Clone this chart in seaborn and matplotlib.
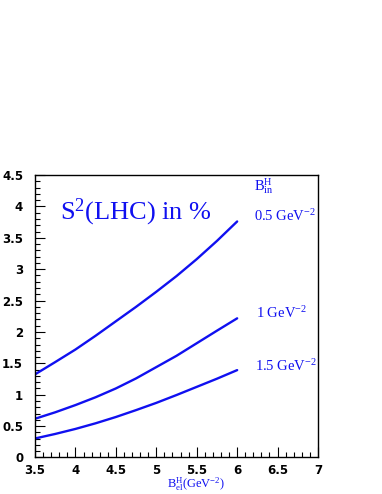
import matplotlib
matplotlib.use("Agg")
import matplotlib.pyplot as plt
import seaborn as sns
import pandas as pd
from matplotlib.ticker import MultipleLocator

# Data
b_el = [3.5, 3.75, 4.0, 4.25, 4.5, 4.75, 5.0, 5.25, 5.5, 5.75, 6.0]
s2_b05 = [1.324, 1.52, 1.72, 1.94, 2.17, 2.40, 2.64, 2.89, 3.16, 3.45, 3.76]
s2_b10 = [0.617, 0.72, 0.835, 0.96, 1.10, 1.26, 1.44, 1.62, 1.82, 2.02, 2.217]
s2_b15 = [0.303, 0.375, 0.455, 0.545, 0.645, 0.755, 0.87, 0.995, 1.125, 1.255, 1.392]
series_names = ["0.5", "1", "1.5"]
x_ticks = [3.5, 4, 4.5, 5, 5.5, 6, 6.5, 7]
x_tick_labels = ["3.5", "4", "4.5", "5", "5.5", "6", "6.5", "7"]
y_ticks = [0, 0.5, 1, 1.5, 2, 2.5, 3, 3.5, 4, 4.5]
y_tick_labels = ["0", "0.5", "1", "1.5", "2", "2.5", "3", "3.5", "4", "4.5"]

rows = []
for name, vals in zip(series_names, [s2_b05, s2_b10, s2_b15]):
    for x, y in zip(b_el, vals):
        rows.append({"B_el": x, "S2": y, "B_in": name})
df = pd.DataFrame(rows)

sns.set_theme(style="white")
plt.rcParams["mathtext.fontset"] = "custom"
plt.rcParams["mathtext.rm"] = "Liberation Serif"
plt.rcParams["mathtext.it"] = "Liberation Serif:italic"
plt.rcParams["font.family"] = ["DejaVu Sans"]

blue = "#1010f0"

fig = plt.figure(figsize=(3.82, 4.94), dpi=100)
ax = fig.add_axes([0.0916, 0.0739, 0.7409, 0.5718])

sns.lineplot(data=df, x="B_el", y="S2", hue="B_in", palette=[blue] * 3,
             legend=False, linewidth=1.7, ax=ax, estimator=None, sort=True)

ax.set_xlim(3.5, 7)
ax.set_ylim(0, 4.5)
ax.set_xticks(x_ticks)
ax.set_xticklabels(x_tick_labels, fontweight="bold", fontsize=8.5,
                   family=["DejaVu Sans"])
ax.set_yticks(y_ticks)
ax.set_yticklabels(y_tick_labels, fontweight="bold", fontsize=8.5,
                   family=["DejaVu Sans"])
ax.xaxis.set_minor_locator(MultipleLocator(0.1))
ax.yaxis.set_minor_locator(MultipleLocator(0.1))

ax.tick_params(axis="x", which="major", pad=4.5)
ax.tick_params(axis="y", which="major", pad=8.5)
ax.tick_params(axis="both", which="major", direction="in", length=7, width=0.8,
               bottom=True, left=True, top=False, right=False,
               color="black", labelcolor="black")
ax.tick_params(axis="both", which="minor", direction="in", length=3.5, width=0.8,
               bottom=True, left=True, top=False, right=False, color="black")
for sp in ax.spines.values():
    sp.set_color("black")
    sp.set_linewidth(1.0)

ax.set_xlabel("")
ax.set_ylabel("")

serif = ["Liberation Serif", "DejaVu Serif"]
fig.text(60 / 382, 1 - 212 / 494, r"S$^{2}$(LHC) in $\mathit{\%}$", color=blue,
         fontsize=19, family=serif, va="center", ha="left")
fig.text(254 / 382, 1 - 186 / 494, r"B$_{\rm in}^{\rm H}$", color=blue, fontsize=10.5,
         family=serif, va="center", ha="left")
fig.text(254 / 382, 1 - 216 / 494, r"0.5 GeV$^{-2}$", color=blue, fontsize=10.5,
         family=serif, va="center", ha="left")
fig.text(256 / 382, 1 - 313 / 494, r"1 GeV$^{-2}$", color=blue, fontsize=10.5,
         family=serif, va="center", ha="left")
fig.text(255 / 382, 1 - 366 / 494, r"1.5 GeV$^{-2}$", color=blue, fontsize=10.5,
         family=serif, va="center", ha="left")
fig.text(196 / 382, 1 - 493.5 / 494, r"B$_{\rm el}^{\rm H}$(GeV$^{-2}$)", color=blue,
         fontsize=9, family=serif, va="bottom", ha="center")

fig.savefig("out.png", dpi=100)
